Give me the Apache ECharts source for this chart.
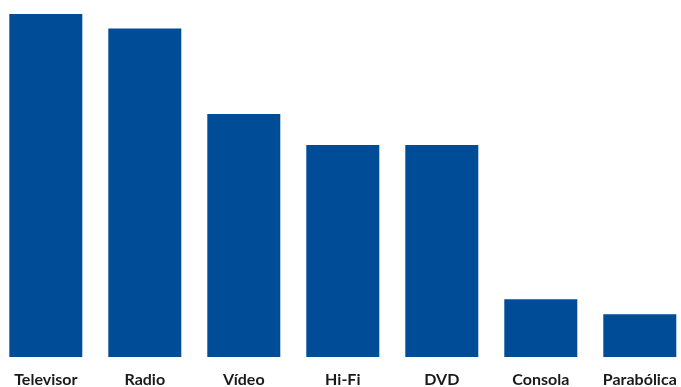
<!DOCTYPE html>
<html>
<head>
<meta charset="utf-8">
<script src="https://cdn.jsdelivr.net/npm/echarts@6/dist/echarts.min.js"></script>
<style>
  html, body { margin: 0; padding: 0; background: #fff; }
  #chart { width: 681px; height: 387px; }
</style>
</head>
<body>
<div id="chart"></div>
<script>
// categorias y valores (escala 0-100)
var categories = ['Televisor', 'Radio', 'Vídeo', 'Hi-Fi', 'DVD', 'Consola', 'Parabólica'];
var values = [96.1, 92.0, 68.1, 59.4, 59.4, 16.2, 12.0];

var chart = echarts.init(document.getElementById('chart'));
var option = {
    animation: false,
    grid: {
        left: -3.7,
        top: 0,
        width: 693,
        height: 357,
        containLabel: false,
        outerBoundsMode: 'none'
    },
    xAxis: {
        type: 'category',
        data: categories,
        axisLine: { show: false },
        axisTick: { show: false },
        axisLabel: {
            interval: 0,
            margin: 15,
            color: '#1a1a1a',
            fontFamily: 'Lato',
            fontWeight: 'bold',
            fontSize: 16
        }
    },
    yAxis: {
        type: 'value',
        min: 0,
        max: 100,
        show: false,
        splitLine: { show: false }
    },
    series: [{
        type: 'bar',
        data: values,
        barWidth: 73,
        itemStyle: { color: '#004c97' }
    }]
};
chart.setOption(option);
</script>
</body>
</html>
